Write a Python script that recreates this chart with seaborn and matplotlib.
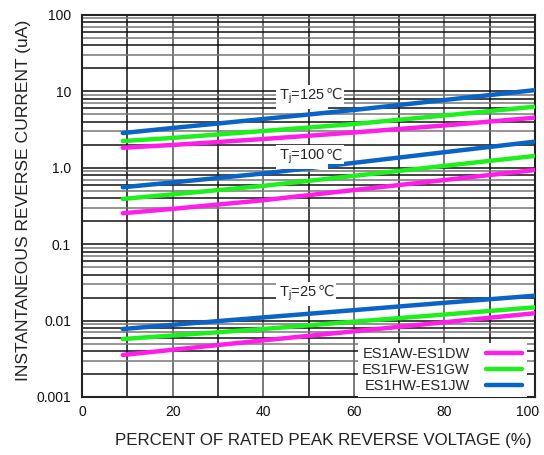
import numpy as np
import pandas as pd
import matplotlib
matplotlib.use("Agg")
import matplotlib.pyplot as plt
import matplotlib.transforms as mtransforms
from matplotlib.lines import Line2D
from matplotlib.ticker import NullFormatter
import seaborn as sns

# Percent of rated peak reverse voltage
voltage_pct = [9, 20, 40, 60, 80, 100]

# Reverse current (uA) per device group and junction temperature
ad_125 = [1.83, 1.99, 2.38, 2.90, 3.58, 4.53]
fg_125 = [2.24, 2.46, 3.03, 3.74, 4.84, 6.31]
hj_125 = [2.85, 3.32, 4.35, 5.71, 7.71, 10.4]

ad_100 = [0.254, 0.290, 0.376, 0.511, 0.692, 0.935]
fg_100 = [0.391, 0.449, 0.580, 0.784, 1.06, 1.43]
hj_100 = [0.556, 0.643, 0.842, 1.16, 1.60, 2.20]

ad_25 = [0.00355, 0.00415, 0.00551, 0.00724, 0.00951, 0.0125]
fg_25 = [0.00574, 0.00638, 0.00776, 0.00968, 0.0120, 0.0149]
hj_25 = [0.00776, 0.00881, 0.0110, 0.0137, 0.0171, 0.0212]

devices = ["ES1AW-ES1DW", "ES1FW-ES1GW", "ES1HW-ES1JW"]
temps = ["125", "100", "25"]
yticks = [0.001, 0.01, 0.1, 1, 10, 100]
ytick_labels = ["0.001", "0.01", "0.1", "1.0", "10", "100"]
xticks = [0, 20, 40, 60, 80, 100]

series = {
    ("125", devices[0]): ad_125, ("125", devices[1]): fg_125, ("125", devices[2]): hj_125,
    ("100", devices[0]): ad_100, ("100", devices[1]): fg_100, ("100", devices[2]): hj_100,
    ("25", devices[0]): ad_25, ("25", devices[1]): fg_25, ("25", devices[2]): hj_25,
}
rows = []
for (t, d), vals in series.items():
    for v, i in zip(voltage_pct, vals):
        rows.append({"tj": t, "device": d, "pct": v, "current": i})
df = pd.DataFrame(rows)

sns.set_style("white")
plt.rcParams["font.family"] = ["Liberation Sans", "DejaVu Sans"]
plt.rcParams["mathtext.fontset"] = "custom"
plt.rcParams["mathtext.rm"] = "Liberation Sans"
plt.rcParams["mathtext.it"] = "Liberation Sans"

palette = {devices[0]: "#ff1ee8", devices[1]: "#1ef01e", devices[2]: "#0a64c8"}

fig = plt.figure(figsize=(5.44, 4.55), dpi=100)
ax = fig.add_axes([82 / 544, 1 - 397 / 455, 453 / 544, 382 / 455])

ax.set_yscale("log")
ax.set_xlim(0, 100)
ax.set_ylim(0.001, 100)

# Grid: vertical every 10 %, horizontal at each log step
for xv in range(10, 100, 10):
    ax.axvline(xv, color="#111111" if xv % 20 else "#555555", lw=1.1, zorder=1)
for dec in range(-3, 2):
    for m in range(1, 10):
        yv = m * 10.0 ** dec
        if yv <= 0.001 or yv >= 100:
            continue
        c = "#111111" if m in (1, 2, 4, 6, 8) else "#777777"
        ax.axhline(yv, color=c, lw=1.1, zorder=1)

sns.lineplot(data=df, x="pct", y="current", hue="device", units="tj",
             estimator=None, palette=palette, lw=3.2, legend=False, ax=ax, zorder=3)

# Temperature labels: "Tj=" part in mathtext, the degree sign as plain text after it
label_pos = [(43.5, 8.45), (43.5, 1.38), (43.5, 0.0223)]
box = dict(facecolor="white", edgecolor="none", pad=2.0)
fig.canvas.draw()
for t, (xv, yv) in zip(temps, label_pos):
    main = ax.text(xv, yv, "T$_\\mathregular{j}$=" + t, fontsize=10.5, ha="left",
                   va="center", zorder=4, bbox=box)
    ax.annotate("\u2103", xy=(1.0, 0.5), xycoords=main, xytext=(0.5, 1.6),
                textcoords="offset points", fontsize=10.5, ha="left", va="center",
                color="#333333", zorder=4, family=["DejaVu Sans"],
                bbox=dict(facecolor="white", edgecolor="none", pad=1.5))

ax.set_yticks(yticks)
ax.set_yticklabels(ytick_labels)
ax.yaxis.set_minor_formatter(NullFormatter())
ax.set_xticks(xticks)
ax.set_xticklabels([str(x) for x in xticks])
ax.tick_params(axis="both", which="both", length=0, labelsize=10, colors="#111111")
ax.tick_params(axis="y", pad=8)
ax.tick_params(axis="x", pad=6)
last = ax.get_xticklabels()[-1]
last.set_transform(last.get_transform() + mtransforms.ScaledTranslation(-7 / 100, 0, fig.dpi_scale_trans))

for s in ax.spines.values():
    s.set_color("#222222")
    s.set_linewidth(1.5)
    s.set_visible(True)

ax.set_xlabel("PERCENT OF RATED PEAK REVERSE VOLTAGE (%)", fontsize=12.2, color="#222222")
ax.xaxis.set_label_coords(0.532, -0.115)
ax.xaxis.label.set_va("center")
ax.set_ylabel("INSTANTANEOUS REVERSE CURRENT (uA)", fontsize=12.6, color="#222222")
ax.yaxis.set_label_coords(-0.130, 0.516)
ax.yaxis.label.set_va("center")

handles = [Line2D([], [], color=palette[d], lw=3.2) for d in devices]
leg = ax.legend(handles, devices, loc="lower right", bbox_to_anchor=(0.982, 0.0),
                markerfirst=False, frameon=True, fancybox=False, framealpha=1,
                edgecolor="none", facecolor="white", fontsize=10.5,
                handlelength=2.5, handletextpad=1.1, labelspacing=0.12,
                borderpad=0.3, borderaxespad=0.0)
leg.set_zorder(5)

fig.savefig("out.png", dpi=100)
